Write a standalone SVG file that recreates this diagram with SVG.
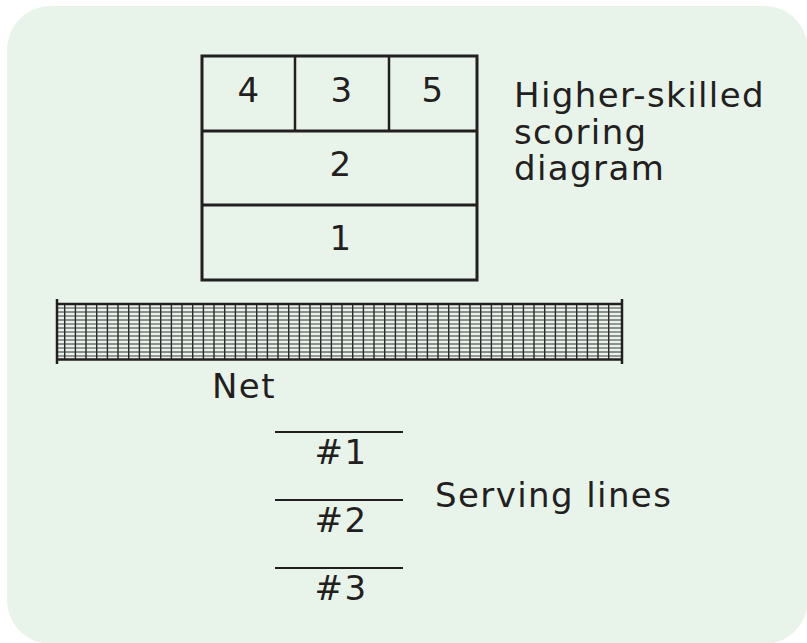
<svg xmlns="http://www.w3.org/2000/svg" width="807" height="643" viewBox="0 0 807 643">
<style>
.t{font-family:"DejaVu Sans","Verdana",sans-serif;font-size:34px;fill:#231f20;letter-spacing:1.4px}
.c{text-anchor:middle}
.k{stroke:#231f20;fill:none}
</style>
<rect x="0" y="0" width="807" height="643" fill="#ffffff"/>
<rect x="7" y="6" width="801" height="638" rx="44" fill="#e8f4ea"/>
<g id="diagram">
<rect class="k" x="202" y="56" width="275" height="224" stroke-width="3"/>
<line class="k" x1="202" y1="131" x2="477" y2="131" stroke-width="3"/>
<line class="k" x1="202" y1="205" x2="477" y2="205" stroke-width="3"/>
<line class="k" x1="295" y1="56" x2="295" y2="131" stroke-width="2.5"/>
<line class="k" x1="389" y1="56" x2="389" y2="131" stroke-width="2.5"/>
<text class="t c" x="249" y="102">4</text>
<text class="t c" x="342" y="102">3</text>
<text class="t c" x="433" y="102">5</text>
<text class="t c" x="341" y="176">2</text>
<text class="t c" x="341" y="250">1</text>
</g>
<g id="label-higher">
<text class="t" x="514" y="107">Higher-skilled</text>
<text class="t" x="514" y="143.5">scoring</text>
<text class="t" x="514" y="180">diagram</text>
</g>
<g id="net">
<g stroke="#7a7a7a" stroke-width="1.5">
<line x1="57" y1="308" x2="622" y2="308"/>
<line x1="57" y1="316" x2="622" y2="316"/>
<line x1="57" y1="324" x2="622" y2="324"/>
<line x1="57" y1="332" x2="622" y2="332"/>
<line x1="57" y1="340" x2="622" y2="340"/>
<line x1="57" y1="348" x2="622" y2="348"/>
<line x1="57" y1="356" x2="622" y2="356"/>
</g>
<g stroke="#2a2a2a" stroke-width="1.2">
<line x1="57" y1="312" x2="622" y2="312"/>
<line x1="57" y1="320" x2="622" y2="320"/>
<line x1="57" y1="328" x2="622" y2="328"/>
<line x1="57" y1="336" x2="622" y2="336"/>
<line x1="57" y1="344" x2="622" y2="344"/>
<line x1="57" y1="352" x2="622" y2="352"/>
</g>
<path d="M64.7 304V360M75.4 304V360M86 304V360M96.7 304V360M107.4 304V360M118 304V360M128.7 304V360M139.4 304V360M150 304V360M160.7 304V360M171.4 304V360M182 304V360M192.7 304V360M203.4 304V360M214 304V360M224.7 304V360M235.4 304V360M246 304V360M256.7 304V360M267.4 304V360M278 304V360M288.7 304V360M299.4 304V360M310 304V360M320.7 304V360M331.4 304V360M342 304V360M352.7 304V360M363.4 304V360M374 304V360M384.7 304V360M395.4 304V360M406 304V360M416.7 304V360M427.4 304V360M438 304V360M448.7 304V360M459.4 304V360M470 304V360M480.7 304V360M491.4 304V360M502 304V360M512.7 304V360M523.4 304V360M534 304V360M544.7 304V360M555.4 304V360M566 304V360M576.7 304V360M587.4 304V360M598 304V360M608.7 304V360" stroke="#2a2a2a" stroke-width="1.4"/>
<line x1="57" y1="304" x2="622" y2="304" stroke="#231f20" stroke-width="2.5"/>
<line x1="57" y1="359.5" x2="622" y2="359.5" stroke="#231f20" stroke-width="2.5"/>
<line x1="57" y1="299" x2="57" y2="364" stroke="#231f20" stroke-width="2.5"/>
<line x1="622" y1="299" x2="622" y2="364" stroke="#231f20" stroke-width="2.5"/>
<text class="t" x="212" y="398">Net</text>
</g>
<g id="serving">
<line class="k" x1="275" y1="432" x2="403" y2="432" stroke-width="2"/>
<line class="k" x1="275" y1="500" x2="403" y2="500" stroke-width="2"/>
<line class="k" x1="275" y1="568" x2="403" y2="568" stroke-width="2"/>
<text class="t c" x="341" y="464">#1</text>
<text class="t c" x="341" y="532">#2</text>
<text class="t c" x="341" y="600">#3</text>
<text class="t" x="435" y="507">Serving lines</text>
</g>
</svg>
